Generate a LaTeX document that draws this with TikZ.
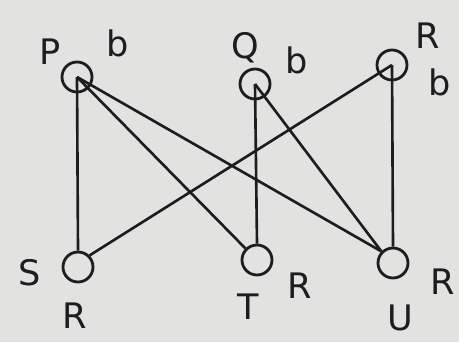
\documentclass[tikz,border=0pt]{standalone}
\usepackage{fontspec}
\setmainfont{DejaVu Sans}
\usepackage{xcolor}
\definecolor{paper}{RGB}{226, 226, 224}
\definecolor{ink}{RGB}{30, 28, 30}
\usepackage{tikz}
\usetikzlibrary{positioning}

\begin{document}
\begin{tikzpicture}[x=0.02cm, y=-0.02cm]

        % Estilos dos vertices e rotulos
        \tikzstyle{vertex} = [circle, draw=ink, line width=1.6pt, minimum size=0.6cm, inner sep=0pt]
        \tikzstyle{tag} = [text=ink, font=\fontsize{20}{22}\selectfont]
        \tikzstyle{edge} = [draw=ink, line width=1.5pt]

        % Fundo (papel)
        \fill[paper] (0,0) rectangle (459,342);
        \useasboundingbox (0,0) rectangle (459,342);

        % Vertices de cima
        \node [vertex] (p) at (77,77) {};
        \node [vertex] (q) at (255,84) {};
        \node [vertex] (r) at (392,65) {};

        % Vertices de baixo
        \node [vertex] (s) at (78,267) {};
        \node [vertex] (t) at (257,260) {};
        \node [vertex] (u) at (393,263) {};

        % Rotulos
        \node [tag] (pname) at (50,52) {P};
        \node [tag] (pmark) at (118,43) {b};
        \node [tag] (qname) at (245,48) {Q};
        \node [tag] (qmark) at (297,60) {b};
        \node [tag] (rname) at (428,36) {R};
        \node [tag] (rmark) at (440,82) {b};
        \node [tag] (sname) at (30,273) {S};
        \node [tag] (smark) at (75,316) {R};
        \node [tag] (tname) at (248,307) {T};
        \node [tag] (tmark) at (300,286) {R};
        \node [tag] (uname) at (400,318) {U};
        \node [tag] (umark) at (443,282) {R};

        % Arestas
        \draw [edge] (p.center) -- (s.north);
        \draw [edge] (p.center) -- (t.north west);
        \draw [edge] (p.center) -- (u.north west);
        \draw [edge] (q.center) -- (t.north);
        \draw [edge] (q.center) -- (u.north west);
        \draw [edge] (r.center) -- (s.north east);
        \draw [edge] (r.center) -- (u.north);

\end{tikzpicture}
\end{document}
